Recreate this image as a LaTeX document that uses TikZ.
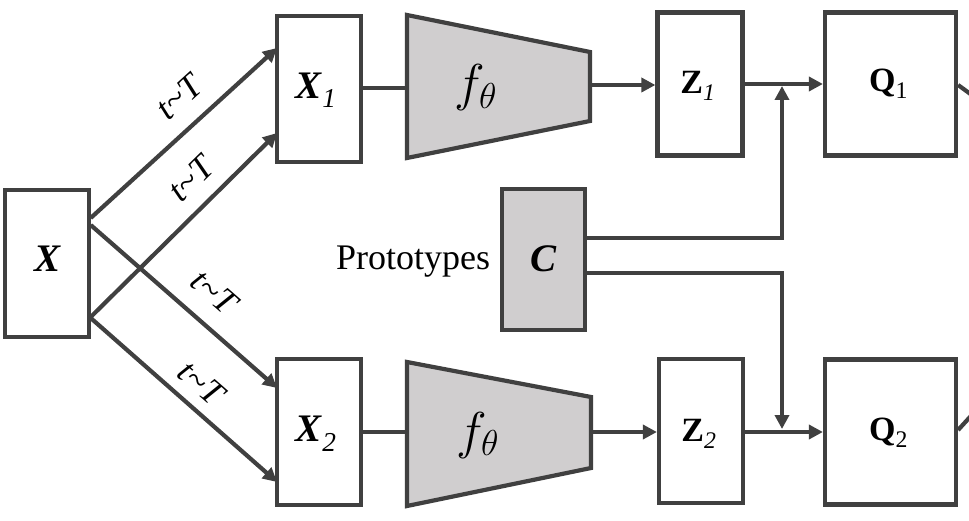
\documentclass[tikz,border=0pt]{standalone}
\usepackage{fontspec}
\setmainfont{Liberation Serif}
\usetikzlibrary{arrows.meta}
\definecolor{ln}{HTML}{404040}
\definecolor{gf}{HTML}{D0CECF}
\tikzset{
  boxs/.style={draw=ln, line width=4.2pt, inner sep=0pt, fill=white},
  gbox/.style={boxs, fill=gf},
  conn/.style={draw=ln, line width=4.2pt},
  arr/.style={conn, -{Triangle[length=14pt,width=14pt]}},
  lab/.style={font=\fontsize{34}{40}\selectfont, anchor=base, inner sep=0pt},
  labx/.style={font=\fontsize{39}{46}\selectfont, anchor=base, inner sep=0pt},
  tl/.style={font=\fontsize{35}{42}\selectfont\itshape, inner sep=0pt},
  fl/.style={font=\fontsize{20}{24}\selectfont, anchor=base, inner sep=0pt, scale=2.5, transform shape},
}
\begin{document}
\begin{tikzpicture}[x=1pt,y=-1pt]
\path[use as bounding box] (0,0) rectangle (969,521);
\clip (0,0) rectangle (969,521);

% boxes
\node[boxs, minimum width=84pt, minimum height=147pt] (X)  at (46.7,263.3) {};
\node[boxs, minimum width=84pt, minimum height=146pt] (X1) at (319,89.3) {};
\node[boxs, minimum width=84pt, minimum height=146pt] (X2) at (319,431.7) {};
\node[boxs, minimum width=85pt, minimum height=143pt] (Z1) at (700,84) {};
\node[boxs, minimum width=84pt, minimum height=144pt] (Z2) at (701,431) {};
\node[boxs, minimum width=131pt, minimum height=143pt] (Q1) at (890.5,84) {};
\node[boxs, minimum width=131pt, minimum height=145pt] (Q2) at (890.5,432) {};
\node[gbox, minimum width=83pt, minimum height=141pt] (C) at (543.5,259.5) {};

% encoders (trapezoids)
\coordinate (t1a) at (407,15);  \coordinate (t1b) at (590,52);
\coordinate (t1c) at (590,121); \coordinate (t1d) at (407,158);
\coordinate (t2a) at (407,362); \coordinate (t2b) at (591,397);
\coordinate (t2c) at (591,468); \coordinate (t2d) at (407,506);
\filldraw[fill=gf, draw=ln, line width=4.2pt, line join=miter] (t1a) -- (t1b) -- (t1c) -- (t1d) -- cycle;
\filldraw[fill=gf, draw=ln, line width=4.2pt, line join=miter] (t2a) -- (t2b) -- (t2c) -- (t2d) -- cycle;

% labels
\node[labx] (Xl)  at (47.5,272) {\textbf{\textit{X}}};
\node[labx] (X1l) at (316,98.3) {\textbf{\textit{X}}\textsubscript{\textit{1}}};
\node[labx] (X2l) at (316,441.7) {\textbf{\textit{X}}\textsubscript{\textit{2}}};
\node[lab] (Z1l) at (698,93.3) {\textbf{Z}\textsubscript{\textit{1}}};
\node[lab] (Z2l) at (699,441) {\textbf{Z}\textsubscript{\textit{2}}};
\node[lab] (Q1l) at (888.5,91.7) {\textbf{Q}\textsubscript{1}};
\node[lab] (Q2l) at (888.5,440) {\textbf{Q}\textsubscript{2}};
\node[labx] (Cl)  at (543.5,272) {\textbf{\textit{C}}};
\node[fl] (f1) at (476,101) {$f_\theta$};
\node[fl] (f2) at (478,448) {$f_\theta$};
\node[font=\fontsize{36}{42}\selectfont, anchor=base, inner sep=0pt] (proto) at (413,270) {Prototypes};

% augmentation arrows
\coordinate (a1s) at (90.7,218); \coordinate (a1e) at (277,48);
\coordinate (a2s) at (90.7,317); \coordinate (a2e) at (277,133);
\coordinate (a3s) at (90.7,225); \coordinate (a3e) at (277,388);
\coordinate (a4s) at (90.7,318); \coordinate (a4e) at (277,482);
\draw[arr] (a1s) -- (a1e);
\draw[arr] (a2s) -- (a2e);
\draw[arr] (a3s) -- (a3e);
\draw[arr] (a4s) -- (a4e);
\node[tl, rotate=42.3] (l1) at (179,97) {t\textasciitilde T};
\node[tl, rotate=44.5] (l2) at (191,179) {t\textasciitilde T};
\node[tl, rotate=-41.1] (l3) at (214,292) {t\textasciitilde T};
\node[tl, rotate=-41.2] (l4) at (201,383) {t\textasciitilde T};

% pipelines
\draw[conn] (X1.east |- 0,88) -- (t1a |- 0,88);
\draw[conn] (X2.east |- 0,432) -- (t2a |- 0,432);
\draw[arr] (t1b |- 0,85) -- (Z1.west |- 0,85);
\draw[arr] (t2b |- 0,432) -- (Z2.west |- 0,432);
\coordinate (j1) at (782,86);
\coordinate (j2) at (782,429);
\draw[arr] (Z1.east |- 0,84) -- (Q1.west |- 0,84);
\draw[arr] (Z2.east |- 0,432) -- (Q2.west |- 0,432);
\draw[arr] (C.east |- 0,238) -| (j1);
\draw[arr] (C.east |- 0,273) -| (j2);

% outgoing (cropped)
\coordinate (q1o) at (980,101);
\coordinate (q2o) at (980,406);
\draw[conn] (Q1.east |- 0,85) -- (q1o);
\draw[conn] (Q2.east |- 0,430) -- (q2o);
\end{tikzpicture}
\end{document}
